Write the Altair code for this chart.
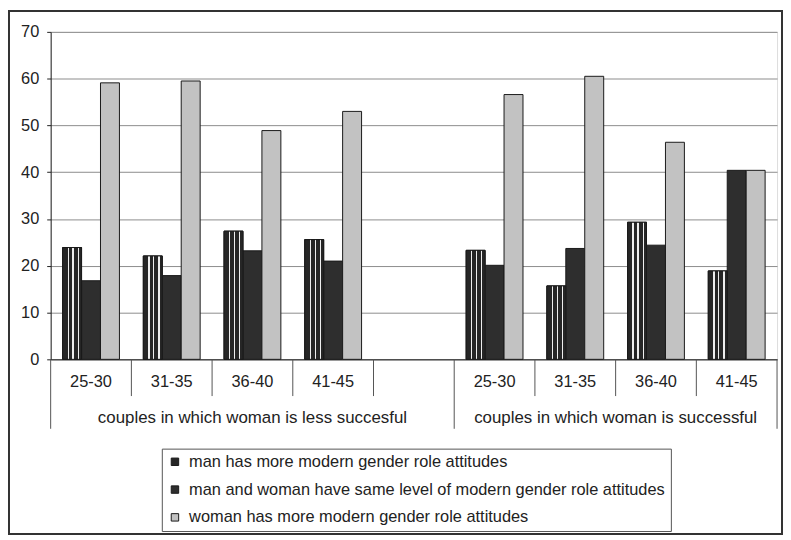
import altair as alt
import pandas as pd

# ---- data ----
groups = ["couples in which woman is less succesful", "couples in which woman is successful"]
ages = ["25-30", "31-35", "36-40", "41-45"]
series = [
    "man has more modern gender role attitudes",
    "man and woman have same level of modern gender role attitudes",
    "woman has more modern gender role attitudes",
]
less_man = [23.9, 22.1, 27.4, 25.6]
less_same = [16.8, 17.9, 23.2, 21.0]
less_woman = [59.1, 59.5, 48.9, 53.0]
succ_man = [23.3, 15.7, 29.3, 18.9]
succ_same = [20.1, 23.7, 24.4, 40.4]
succ_woman = [56.6, 60.5, 46.4, 40.4]
y_ticks = [0, 10, 20, 30, 40, 50, 60, 70]

# category keys: left group (with an empty slot), then right group
cats = ["L|" + a for a in ages] + ["L|"] + ["R|" + a for a in ages]

rows = []
for prefix, vals in (("L|", (less_man, less_same, less_woman)),
                     ("R|", (succ_man, succ_same, succ_woman))):
    for s, v in zip(series, vals):
        for a, val in zip(ages, v):
            rows.append({"cat": prefix + a, "series": s, "value": val})
df = pd.DataFrame(rows)

W, H = 732, 330
FONT = "Liberation Sans"
FS = 16.5
DARK = "#262626"
TXT = "#222222"

xscale = alt.Scale(domain=cats, paddingInner=0, paddingOuter=0)
offscale = alt.Scale(domain=series, paddingInner=0, paddingOuter=0.63)
yscale = alt.Scale(domain=[0, 70], nice=False)

x_enc = alt.X(
    "cat:N", scale=xscale, sort=cats,
    axis=alt.Axis(title=None, labelExpr="split(datum.value, '|')[1]", ticks=False,
                  domain=True, domainColor=TXT, labelFontSize=FS, labelFont=FONT,
                  labelColor=TXT, labelPadding=14, labelAngle=0, grid=False),
)
y_enc = alt.Y(
    "value:Q", scale=yscale,
    axis=alt.Axis(title=None, values=y_ticks, grid=True, gridColor="#8c8c8c",
                  domainColor=TXT, tickColor=TXT, tickSize=4, labelPadding=8,
                  labelFontSize=FS, labelFont=FONT, labelColor=TXT),
)

bars = alt.Chart(df).mark_bar(stroke="#1a1a1a", strokeWidth=1).encode(
    x=x_enc,
    xOffset=alt.XOffset("series:N", scale=offscale),
    y=y_enc,
    color=alt.Color(
        "series:N",
        scale=alt.Scale(domain=series, range=[DARK, "#2e2e2e", "#c2c2c2"]),
        legend=alt.Legend(
            title=None, orient="none", legendX=112, legendY=420, direction="vertical",
            symbolType="square", symbolSize=56, symbolStrokeColor="#1a1a1a",
            symbolStrokeWidth=1, labelFontSize=FS, labelFont=FONT, labelColor=TXT,
            rowPadding=11, padding=5, strokeColor="#555555", fillColor="white",
            labelLimit=0, labelOffset=6,
        ),
    ),
)

stripe = alt.LinearGradient(
    gradient="linear", x1=0, x2=1, y1=0, y2=0,
    stops=[
        alt.GradientStop(color=DARK, offset=0),
        alt.GradientStop(color=DARK, offset=0.26),
        alt.GradientStop(color="#eeeeee", offset=0.26),
        alt.GradientStop(color="#eeeeee", offset=0.33),
        alt.GradientStop(color=DARK, offset=0.33),
        alt.GradientStop(color=DARK, offset=0.52),
        alt.GradientStop(color="#eeeeee", offset=0.52),
        alt.GradientStop(color="#eeeeee", offset=0.59),
        alt.GradientStop(color=DARK, offset=0.59),
        alt.GradientStop(color=DARK, offset=0.79),
        alt.GradientStop(color="#eeeeee", offset=0.79),
        alt.GradientStop(color="#eeeeee", offset=0.86),
        alt.GradientStop(color=DARK, offset=0.86),
        alt.GradientStop(color=DARK, offset=1),
    ],
)
stripes = alt.Chart(df[df["series"] == series[0]]).mark_bar(
    fill=stripe, stroke="#1a1a1a", strokeWidth=1
).encode(
    x=alt.X("cat:N", scale=xscale, sort=cats),
    xOffset=alt.XOffset("series:N", scale=offscale),
    y=alt.Y("value:Q", scale=yscale),
)

# category dividers below the axis
short_div = ["L|31-35", "L|36-40", "L|41-45", "L|", "R|31-35", "R|36-40", "R|41-45"]
long_div = ["L|25-30", "R|25-30"]
div_short = alt.Chart(pd.DataFrame({"cat": short_div})).mark_rule(color="#555555").encode(
    x=alt.X("cat:N", scale=xscale, sort=cats, bandPosition=0),
    y=alt.value(H), y2=alt.value(H + 37),
)
div_long = alt.Chart(pd.DataFrame({"cat": long_div})).mark_rule(color="#555555").encode(
    x=alt.X("cat:N", scale=xscale, sort=cats, bandPosition=0),
    y=alt.value(H), y2=alt.value(H + 70),
)
div_end = alt.Chart(pd.DataFrame({"cat": ["R|41-45"]})).mark_rule(color="#555555").encode(
    x=alt.X("cat:N", scale=xscale, sort=cats, bandPosition=1),
    y=alt.value(H), y2=alt.value(H + 70),
)

# group labels
g_left = alt.Chart(pd.DataFrame({"cat": ["L|36-40"], "label": [groups[0]]})).mark_text(
    font=FONT, fontSize=17, color=TXT, baseline="middle", align="center"
).encode(
    x=alt.X("cat:N", scale=xscale, sort=cats, bandPosition=0.5),
    y=alt.value(H + 59), text="label:N",
)
g_right = alt.Chart(pd.DataFrame({"cat": ["R|31-35"], "label": [groups[1]]})).mark_text(
    font=FONT, fontSize=17, color=TXT, baseline="middle", align="center"
).encode(
    x=alt.X("cat:N", scale=xscale, sort=cats, bandPosition=1),
    y=alt.value(H + 59), text="label:N",
)

# outer frame of the figure
frame = alt.Chart(pd.DataFrame({"k": [0]})).mark_rect(
    fill="transparent", stroke="#333333", strokeWidth=2
).encode(
    x=alt.value(-42), x2=alt.value(737), y=alt.value(-21), y2=alt.value(506)
)

chart = alt.layer(bars, stripes, div_short, div_long, div_end, g_left, g_right, frame).properties(
    width=W, height=H,
    autosize=alt.AutoSizeParams(type="none"),
    padding={"left": 43, "top": 22, "right": 6, "bottom": 178},
    background="white",
).configure_view(stroke="#8c8c8c").configure(font=FONT)

chart.save("out.html", embed_options={"renderer": "svg", "actions": False})
